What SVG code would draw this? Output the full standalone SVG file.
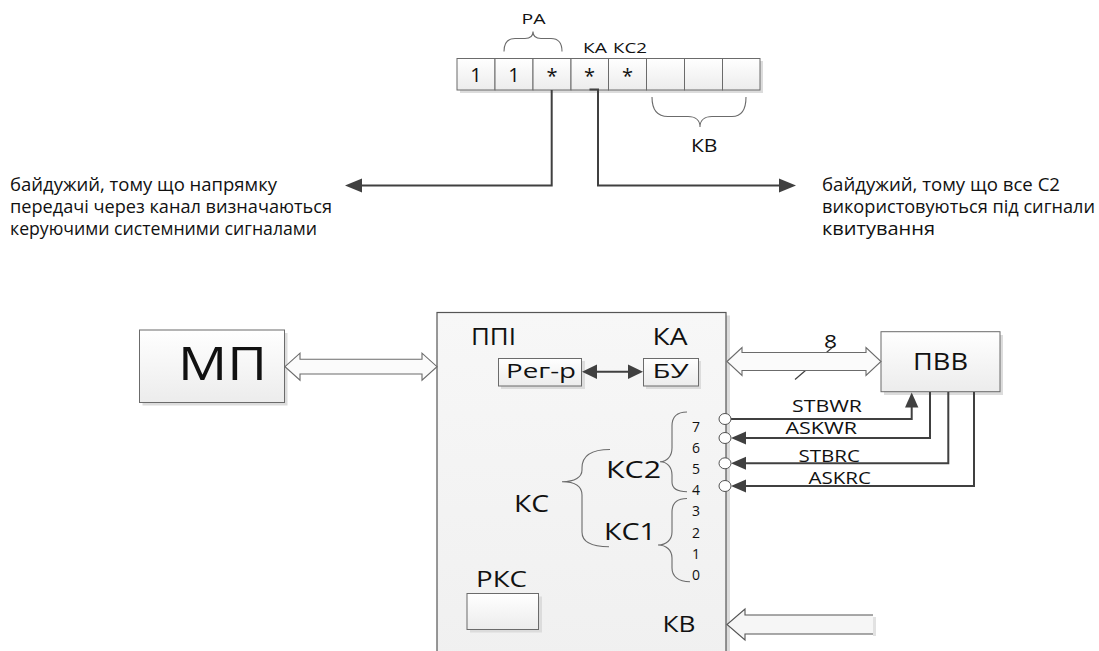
<svg xmlns="http://www.w3.org/2000/svg" width="1099" height="651" viewBox="0 0 1099 651">
<style>
text{font-family:"Open Sans","Liberation Sans",sans-serif;fill:#111;}
.box{stroke:#6b6b6b;stroke-width:1;fill:url(#g)}
.shadow{fill:#dcdcdc}
.brace{fill:none;stroke:#6b6b6b;stroke-width:1.1}
.wire{fill:none;stroke:#404040;stroke-width:2}
.head{fill:#404040}
.hollow{fill:#fbfbfb;stroke:#6b6b6b;stroke-width:1.1}
.pin{fill:#fff;stroke:#555;stroke-width:1}
</style>
<defs>
<linearGradient id="g" x1="0" y1="0" x2="0" y2="1">
<stop offset="0" stop-color="#ffffff"/>
<stop offset="1" stop-color="#ececec"/>
</linearGradient>
<linearGradient id="gb" x1="0" y1="0" x2="0" y2="1">
<stop offset="0" stop-color="#f7f7f7"/>
<stop offset="1" stop-color="#f0f0f0"/>
</linearGradient>
</defs>
<rect width="1099" height="651" fill="#fff"/>

<g id="register">
<rect class="shadow" x="460" y="61" width="303" height="32"/>
<rect class="box" x="457" y="58.5" width="38" height="31.5"/>
<rect class="box" x="495" y="58.5" width="38" height="31.5"/>
<rect class="box" x="533" y="58.5" width="38" height="31.5"/>
<rect class="box" x="571" y="58.5" width="37.5" height="31.5"/>
<rect class="box" x="608.5" y="58.5" width="38" height="31.5"/>
<rect class="box" x="646.5" y="58.5" width="38" height="31.5"/>
<rect class="box" x="684.5" y="58.5" width="38" height="31.5"/>
<rect class="box" x="722.5" y="58.5" width="37.5" height="31.5"/>
<text x="476" y="81.5" font-size="20" text-anchor="middle">1</text>
<text x="514" y="81.5" font-size="20" text-anchor="middle">1</text>
<text x="552" y="83" font-size="20" text-anchor="middle">*</text>
<text x="589.5" y="83" font-size="20" text-anchor="middle">*</text>
<text x="627.5" y="83" font-size="20" text-anchor="middle">*</text>
<path class="brace" d="M504,51.5 C504,43 508,38.5 515,38.5 L525,38.5 C530,38.5 533,36 533,31.5 C533,36 536,38.5 541,38.5 L551,38.5 C558,38.5 562,43 562,51.5"/>
<text x="521.5" y="24" font-size="14.5" textLength="24" lengthAdjust="spacingAndGlyphs">РА</text>
<text x="583" y="53.3" font-size="15" textLength="24" lengthAdjust="spacingAndGlyphs">КА</text>
<text x="613" y="53.3" font-size="15" textLength="34" lengthAdjust="spacingAndGlyphs">КС2</text>
<path class="brace" d="M652,97 C652,110 658,116.5 668,116.5 L688,116.5 C695,116.5 700,120 700,127 C700,120 705,116.5 712,116.5 L732,116.5 C741,116.5 746,110 746,97"/>
<text x="691" y="151.7" font-size="18.5" textLength="26.5" lengthAdjust="spacingAndGlyphs">КВ</text>
</g>

<g id="note-left">
<text x="10" y="190.5" font-size="17.5" textLength="267" lengthAdjust="spacingAndGlyphs">байдужий, тому що напрямку</text>
<text x="10" y="212.5" font-size="17.5" textLength="322" lengthAdjust="spacingAndGlyphs">передачі через канал визначаються</text>
<text x="10" y="234.5" font-size="17.5" textLength="307" lengthAdjust="spacingAndGlyphs">керуючими системними сигналами</text>
</g>
<g id="note-right">
<text x="822" y="190.5" font-size="17.5" textLength="238" lengthAdjust="spacingAndGlyphs">байдужий, тому що все С2</text>
<text x="822" y="212.5" font-size="17.5" textLength="273" lengthAdjust="spacingAndGlyphs">використовуються під сигнали</text>
<text x="822" y="234.5" font-size="17.5" textLength="113" lengthAdjust="spacingAndGlyphs">квитування</text>
</g>

<g id="ppi">
<rect class="shadow" x="440" y="315.5" width="290" height="350"/>
<rect x="437" y="312.5" width="289" height="350" fill="url(#gb)" stroke="#555" stroke-width="1.2"/>
<text x="471" y="345" font-size="23" textLength="45" lengthAdjust="spacingAndGlyphs">ППІ</text>
<text x="652.5" y="345" font-size="23" textLength="35" lengthAdjust="spacingAndGlyphs">КА</text>
<text x="514" y="511.7" font-size="23" textLength="35" lengthAdjust="spacingAndGlyphs">КС</text>
<text x="606" y="478.3" font-size="23" textLength="55" lengthAdjust="spacingAndGlyphs">КС2</text>
<text x="604" y="540" font-size="23" textLength="52" lengthAdjust="spacingAndGlyphs">КС1</text>
<path class="brace" d="M610,449.5 C592,449.5 582,455 582,468 L582,470 C582,477 575,481.7 562,481.7 C575,481.7 582,486 582,495 L582,532 C582,542 592,546.7 609,546.7"/>
<path class="brace" d="M687,412 C677,412 672,417 672,426 L672,448 C672,456 667,461.7 660,461.7 C667,461.7 672,467 672,475 L672,482 C672,488 677,491.7 687,491.7"/>
<path class="brace" d="M687,498.5 C677,498.5 672,503 672,512 L672,532 C672,540 666,545 658,545 C666,545 672,550 672,558 L672,568 C672,576 678,581.7 690,581.7"/>
<g font-size="14" text-anchor="middle">
<text x="696" y="431.5">7</text>
<text x="696" y="452.7">6</text>
<text x="696" y="473.9">5</text>
<text x="696" y="495.1">4</text>
<text x="696" y="516.3">3</text>
<text x="696" y="537.5">2</text>
<text x="696" y="558.7">1</text>
<text x="696" y="579.9">0</text>
</g>
<text x="476" y="586.7" font-size="21" textLength="51" lengthAdjust="spacingAndGlyphs">РКС</text>
<text x="662.5" y="631.7" font-size="21" textLength="33" lengthAdjust="spacingAndGlyphs">КВ</text>
</g>

<g id="reg-r">
<rect class="shadow" x="501" y="361" width="84" height="28"/>
<rect class="box" x="498.5" y="358.5" width="83" height="27.5"/>
<text x="506" y="377.5" font-size="19.5" textLength="70" lengthAdjust="spacingAndGlyphs">Рег-р</text>
</g>
<g id="bu">
<rect class="shadow" x="646" y="361" width="55" height="28"/>
<rect class="box" x="643.5" y="358.5" width="55" height="27.5"/>
<text x="652.5" y="377.5" font-size="19.5" textLength="36" lengthAdjust="spacingAndGlyphs">БУ</text>
</g>
<g id="rks">
<rect class="shadow" x="470" y="596.5" width="72" height="36"/>
<rect class="box" x="467" y="593.5" width="71.5" height="36"/>
</g>

<g id="mp">
<rect class="shadow" x="142.5" y="333" width="145" height="72.5"/>
<rect class="box" x="139.5" y="330" width="145" height="72.5"/>
<text x="178" y="380" font-size="46" textLength="89" lengthAdjust="spacingAndGlyphs">МП</text>
</g>

<g id="pvv">
<rect class="shadow" x="884" y="335" width="119" height="60"/>
<rect class="box" x="881" y="331.7" width="119" height="60"/>
<text x="913" y="370" font-size="23" textLength="55" lengthAdjust="spacingAndGlyphs">ПВВ</text>
</g>

<g id="connectors">
<path class="wire" d="M551.7,90 V185.5 H361"/>
<polygon class="head" points="345,185.5 362,178.5 362,192.5"/>
<path class="wire" d="M589.5,89.5 H598 V185.5 H780"/>
<polygon class="head" points="796,185.5 779,178.5 779,192.5"/>

<path class="wire" d="M596,371.7 H629"/>
<polygon class="head" points="582,371.7 597,364.5 597,379"/>
<polygon class="head" points="643,371.7 628,364.5 628,379"/>

<polygon class="hollow" points="285,366.7 300,353.2 300,359.3 422,359.3 422,353.2 437,366.7 422,380.2 422,374 300,374 300,380.2"/>

<line x1="795" y1="379.5" x2="834" y2="346" stroke="#404040" stroke-width="1.2"/>
<polygon class="hollow" points="727,361.5 742,347.5 742,352.5 866,352.5 866,347.5 881,361.5 866,375.5 866,370.5 742,370.5 742,375.5"/>
<text x="824" y="348.3" font-size="18.5" textLength="13" lengthAdjust="spacingAndGlyphs">8</text>

<polygon points="727,624.5 745,609 745,615 873,615 873,634 745,634 745,640" fill="#f6f6f6"/>
<rect x="873" y="617" width="3" height="19" fill="#e2e2e2"/>
<polyline points="873,615 745,615 745,609 727,624.5 745,640 745,634 873,634" fill="none" stroke="#555" stroke-width="1.1"/>

<path class="wire" d="M731,419 H911.7 V406"/>
<polygon class="head" points="911.7,392.5 905,407.5 918.4,407.5"/>
<path class="wire" d="M930,392 V438 H745"/>
<polygon class="head" points="731,438 746,431.5 746,444.5"/>
<path class="wire" d="M948.3,392 V463.3 H745"/>
<polygon class="head" points="731,463.3 746,456.8 746,469.8"/>
<path class="wire" d="M974,392 V486 H745"/>
<polygon class="head" points="731,486 746,479.5 746,492.5"/>

<ellipse class="pin" cx="725" cy="419" rx="6" ry="5.5"/>
<ellipse class="pin" cx="725" cy="438" rx="6" ry="5.5"/>
<ellipse class="pin" cx="725" cy="463.3" rx="6" ry="5.5"/>
<ellipse class="pin" cx="725" cy="486" rx="6" ry="5.5"/>

<text x="792" y="411.7" font-size="16" textLength="70" lengthAdjust="spacingAndGlyphs">STBWR</text>
<text x="785.5" y="434.3" font-size="16" textLength="71.5" lengthAdjust="spacingAndGlyphs">ASKWR</text>
<text x="798.5" y="462.3" font-size="16" textLength="61.5" lengthAdjust="spacingAndGlyphs">STBRC</text>
<text x="808.5" y="484" font-size="16" textLength="62.5" lengthAdjust="spacingAndGlyphs">ASKRC</text>
</g>
</svg>
